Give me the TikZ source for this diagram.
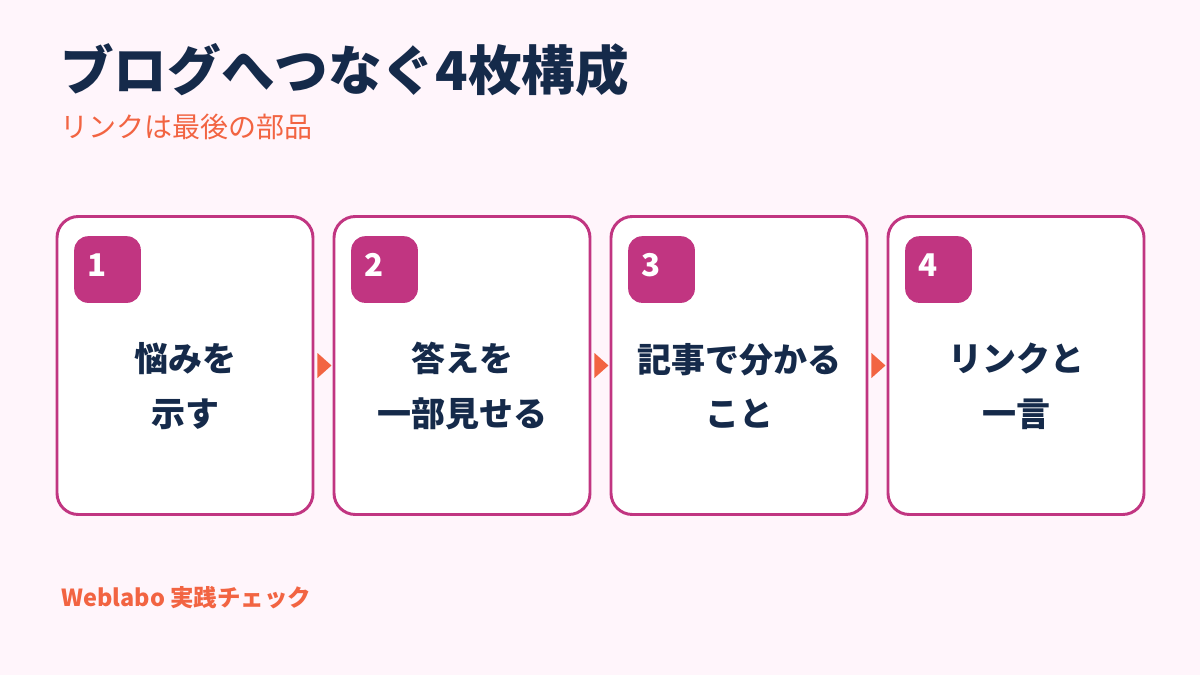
\documentclass[tikz,border=0pt]{standalone}
\usepackage{fontspec}
\setmainfont{Noto Sans CJK JP}
\usetikzlibrary{calc}
\definecolor{bg}{HTML}{FFF5FB}
\definecolor{mag}{HTML}{C13581}
\definecolor{navy}{HTML}{152A4A}
\definecolor{accent}{HTML}{F26442}
\tikzset{
  card/.style={draw=mag, line width=2.2pt, fill=white, rounded corners=16pt, minimum width=192pt, minimum height=223.5pt, inner sep=0pt},
  badge/.style={fill=mag, rounded corners=10.5pt, minimum width=50pt, minimum height=50pt, inner sep=0pt},
  num/.style={text=white, font=\bfseries\fontsize{23.5}{23.5}\selectfont, anchor=base west, inner sep=0pt},
  body/.style={text=navy, font=\bfseries\fontsize{25.5}{41}\selectfont, align=center},
  tri/.style={fill=accent}
}
\begin{document}
\begin{tikzpicture}[x=0.75pt,y=-0.75pt]
\fill[bg] (0,0) rectangle (1200,675);
\useasboundingbox (0,0) rectangle (1200,675);
\node[anchor=west, inner sep=0pt, text=navy, font=\bfseries\fontsize{40.2}{40}\selectfont] (title) at (60,70) {ブログへつなぐ4枚構成};
\node[anchor=west, inner sep=0pt, text=accent, font=\fontsize{21}{21}\selectfont] (sub) at (60,127) {リンクは最後の部品};
\node[anchor=west, inner sep=0pt, text=accent, font=\bfseries\fontsize{17.6}{17.6}\selectfont] (foot) at (61,598) {Weblabo 実践チェック};
\foreach \i/\x/\t in {1/185/{悩みを\\示す},2/462/{答えを\\一部見せる},3/739/{記事で分かる\\こと},4/1016/{リンクと\\一言}}{
  \node[card] (c\i) at (\x,365.5) {};
  \node[badge] (b\i) at ($(c\i.north west)+(52,54.5)$) {};
  \node[num] (n\i) at ($(b\i.west)+(13,7)$) {\i};
  \node[body] (t\i) at (\x,386) {\t};
}
\foreach \a/\b in {1/2,2/3,3/4}{
  \fill[tri] ($(c\a.east)+(3,-12.5)$) -- ($(c\a.east)+(17,0)$) -- ($(c\a.east)+(3,12.5)$) -- cycle;
}
\end{tikzpicture}
\end{document}
